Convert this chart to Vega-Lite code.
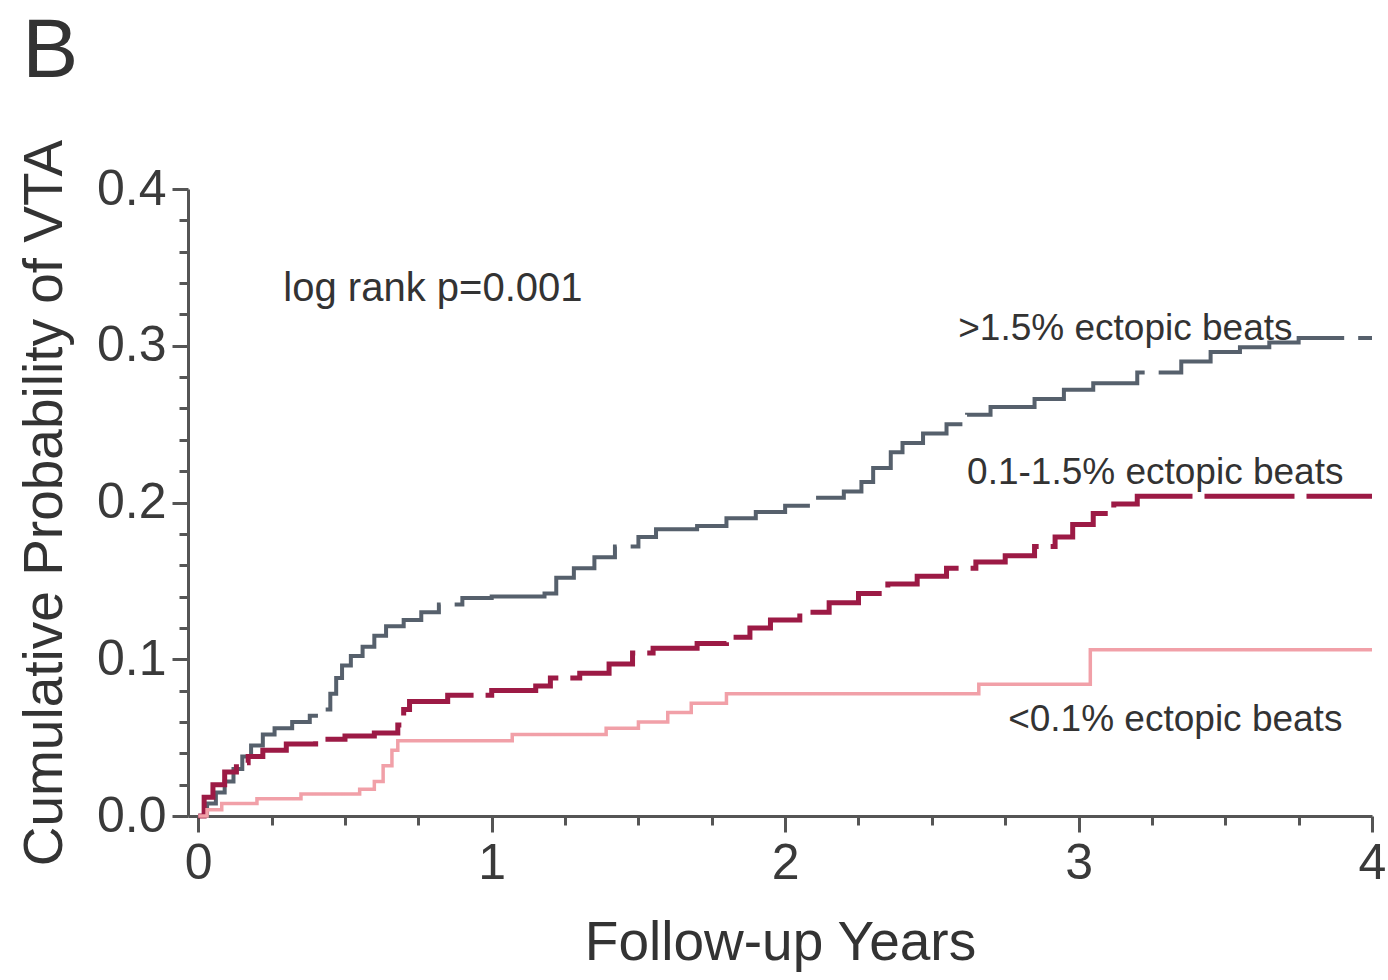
{
  "$schema": "https://vega.github.io/schema/vega-lite/v6.json",
  "width": 1184,
  "height": 627,
  "autosize": {"type": "none"},
  "padding": {"left": 188, "top": 189, "right": 16, "bottom": 164},
  "background": "white",
  "config": {
    "view": {"stroke": null},
    "font": "Liberation Sans",
    "axis": {
      "domainColor": "#555555",
      "domainWidth": 3,
      "tickColor": "#555555",
      "tickWidth": 3,
      "grid": false,
      "labelColor": "#3a3a3a",
      "titleColor": "#333333",
      "labelFont": "Liberation Sans",
      "titleFont": "Liberation Sans",
      "labelFontSize": 50,
      "titleFontSize": 55,
      "titleFontWeight": "normal"
    }
  },
  "datasets": {
    "curves": [
      {"group": ">1.5%", "t": 0, "p": 0},
      {"group": ">1.5%", "t": 0.03, "p": 0.008},
      {"group": ">1.5%", "t": 0.06, "p": 0.015},
      {"group": ">1.5%", "t": 0.09, "p": 0.022},
      {"group": ">1.5%", "t": 0.12, "p": 0.03},
      {"group": ">1.5%", "t": 0.15, "p": 0.038},
      {"group": ">1.5%", "t": 0.18, "p": 0.045},
      {"group": ">1.5%", "t": 0.22, "p": 0.052},
      {"group": ">1.5%", "t": 0.26, "p": 0.056},
      {"group": ">1.5%", "t": 0.32, "p": 0.06},
      {"group": ">1.5%", "t": 0.38, "p": 0.064},
      {"group": ">1.5%", "t": 0.42, "p": 0.068},
      {"group": ">1.5%", "t": 0.45, "p": 0.078},
      {"group": ">1.5%", "t": 0.47, "p": 0.088},
      {"group": ">1.5%", "t": 0.49, "p": 0.096},
      {"group": ">1.5%", "t": 0.52, "p": 0.102},
      {"group": ">1.5%", "t": 0.56, "p": 0.108},
      {"group": ">1.5%", "t": 0.6, "p": 0.115},
      {"group": ">1.5%", "t": 0.64, "p": 0.121},
      {"group": ">1.5%", "t": 0.7, "p": 0.125},
      {"group": ">1.5%", "t": 0.76, "p": 0.13},
      {"group": ">1.5%", "t": 0.82, "p": 0.135},
      {"group": ">1.5%", "t": 0.9, "p": 0.139},
      {"group": ">1.5%", "t": 1.0, "p": 0.14},
      {"group": ">1.5%", "t": 1.18, "p": 0.142},
      {"group": ">1.5%", "t": 1.22, "p": 0.152},
      {"group": ">1.5%", "t": 1.28, "p": 0.158},
      {"group": ">1.5%", "t": 1.35, "p": 0.165},
      {"group": ">1.5%", "t": 1.42, "p": 0.172},
      {"group": ">1.5%", "t": 1.5, "p": 0.178},
      {"group": ">1.5%", "t": 1.56, "p": 0.183},
      {"group": ">1.5%", "t": 1.7, "p": 0.185},
      {"group": ">1.5%", "t": 1.8, "p": 0.19},
      {"group": ">1.5%", "t": 1.9, "p": 0.194},
      {"group": ">1.5%", "t": 2.0, "p": 0.198},
      {"group": ">1.5%", "t": 2.1, "p": 0.203},
      {"group": ">1.5%", "t": 2.2, "p": 0.207},
      {"group": ">1.5%", "t": 2.26, "p": 0.213},
      {"group": ">1.5%", "t": 2.3, "p": 0.222},
      {"group": ">1.5%", "t": 2.36, "p": 0.232},
      {"group": ">1.5%", "t": 2.4, "p": 0.238},
      {"group": ">1.5%", "t": 2.47, "p": 0.244},
      {"group": ">1.5%", "t": 2.55, "p": 0.25},
      {"group": ">1.5%", "t": 2.62, "p": 0.256},
      {"group": ">1.5%", "t": 2.7, "p": 0.261},
      {"group": ">1.5%", "t": 2.85, "p": 0.266},
      {"group": ">1.5%", "t": 2.95, "p": 0.272},
      {"group": ">1.5%", "t": 3.05, "p": 0.276},
      {"group": ">1.5%", "t": 3.2, "p": 0.283},
      {"group": ">1.5%", "t": 3.35, "p": 0.29},
      {"group": ">1.5%", "t": 3.45, "p": 0.296},
      {"group": ">1.5%", "t": 3.55, "p": 0.299},
      {"group": ">1.5%", "t": 3.65, "p": 0.302},
      {"group": ">1.5%", "t": 3.75, "p": 0.305},
      {"group": ">1.5%", "t": 4.0, "p": 0.305},

      {"group": "0.1-1.5%", "t": 0, "p": 0},
      {"group": "0.1-1.5%", "t": 0.02, "p": 0.012},
      {"group": "0.1-1.5%", "t": 0.05, "p": 0.02},
      {"group": "0.1-1.5%", "t": 0.09, "p": 0.028},
      {"group": "0.1-1.5%", "t": 0.13, "p": 0.034},
      {"group": "0.1-1.5%", "t": 0.17, "p": 0.038},
      {"group": "0.1-1.5%", "t": 0.22, "p": 0.042},
      {"group": "0.1-1.5%", "t": 0.3, "p": 0.046},
      {"group": "0.1-1.5%", "t": 0.4, "p": 0.049},
      {"group": "0.1-1.5%", "t": 0.5, "p": 0.051},
      {"group": "0.1-1.5%", "t": 0.6, "p": 0.053},
      {"group": "0.1-1.5%", "t": 0.68, "p": 0.058},
      {"group": "0.1-1.5%", "t": 0.7, "p": 0.068},
      {"group": "0.1-1.5%", "t": 0.72, "p": 0.073},
      {"group": "0.1-1.5%", "t": 0.85, "p": 0.077},
      {"group": "0.1-1.5%", "t": 1.0, "p": 0.08},
      {"group": "0.1-1.5%", "t": 1.15, "p": 0.083},
      {"group": "0.1-1.5%", "t": 1.2, "p": 0.088},
      {"group": "0.1-1.5%", "t": 1.3, "p": 0.091},
      {"group": "0.1-1.5%", "t": 1.4, "p": 0.097},
      {"group": "0.1-1.5%", "t": 1.48, "p": 0.104},
      {"group": "0.1-1.5%", "t": 1.55, "p": 0.107},
      {"group": "0.1-1.5%", "t": 1.7, "p": 0.11},
      {"group": "0.1-1.5%", "t": 1.8, "p": 0.114},
      {"group": "0.1-1.5%", "t": 1.88, "p": 0.12},
      {"group": "0.1-1.5%", "t": 1.95, "p": 0.125},
      {"group": "0.1-1.5%", "t": 2.05, "p": 0.13},
      {"group": "0.1-1.5%", "t": 2.15, "p": 0.136},
      {"group": "0.1-1.5%", "t": 2.25, "p": 0.142},
      {"group": "0.1-1.5%", "t": 2.35, "p": 0.148},
      {"group": "0.1-1.5%", "t": 2.45, "p": 0.153},
      {"group": "0.1-1.5%", "t": 2.55, "p": 0.158},
      {"group": "0.1-1.5%", "t": 2.65, "p": 0.162},
      {"group": "0.1-1.5%", "t": 2.75, "p": 0.166},
      {"group": "0.1-1.5%", "t": 2.85, "p": 0.172},
      {"group": "0.1-1.5%", "t": 2.92, "p": 0.178},
      {"group": "0.1-1.5%", "t": 2.98, "p": 0.186},
      {"group": "0.1-1.5%", "t": 3.05, "p": 0.193},
      {"group": "0.1-1.5%", "t": 3.12, "p": 0.199},
      {"group": "0.1-1.5%", "t": 3.2, "p": 0.204},
      {"group": "0.1-1.5%", "t": 4.0, "p": 0.204},

      {"group": "<0.1%", "t": 0, "p": 0},
      {"group": "<0.1%", "t": 0.03, "p": 0.004},
      {"group": "<0.1%", "t": 0.08, "p": 0.008},
      {"group": "<0.1%", "t": 0.2, "p": 0.011},
      {"group": "<0.1%", "t": 0.35, "p": 0.014},
      {"group": "<0.1%", "t": 0.55, "p": 0.017},
      {"group": "<0.1%", "t": 0.6, "p": 0.022},
      {"group": "<0.1%", "t": 0.63, "p": 0.032},
      {"group": "<0.1%", "t": 0.66, "p": 0.042},
      {"group": "<0.1%", "t": 0.68, "p": 0.048},
      {"group": "<0.1%", "t": 1.07, "p": 0.052},
      {"group": "<0.1%", "t": 1.39, "p": 0.056},
      {"group": "<0.1%", "t": 1.5, "p": 0.06},
      {"group": "<0.1%", "t": 1.6, "p": 0.066},
      {"group": "<0.1%", "t": 1.68, "p": 0.072},
      {"group": "<0.1%", "t": 1.8, "p": 0.078},
      {"group": "<0.1%", "t": 2.66, "p": 0.084},
      {"group": "<0.1%", "t": 3.04, "p": 0.106},
      {"group": "<0.1%", "t": 4.0, "p": 0.106}
    ],
    "notes": [
      {"t": -0.6, "p": 0.4875, "label": "B", "size": "big"},
      {"t": 0.29, "p": 0.336, "label": "log rank p=0.001", "size": "medium"},
      {"t": 2.59, "p": 0.311, "label": ">1.5% ectopic beats", "size": "small"},
      {"t": 2.62, "p": 0.219, "label": "0.1-1.5% ectopic beats", "size": "small"},
      {"t": 2.76, "p": 0.061, "label": "<0.1% ectopic beats", "size": "small"}
    ]
  },
  "layer": [
    {
      "data": {"name": "curves"},
      "mark": {"type": "line", "interpolate": "step-after", "clip": false},
      "encoding": {
        "x": {
          "field": "t", "type": "quantitative",
          "scale": {"domain": [-0.035, 4.0], "nice": false, "zero": false},
          "axis": {
            "title": "Follow-up Years",
            "values": [0, 0.25, 0.5, 0.75, 1, 1.25, 1.5, 1.75, 2, 2.25, 2.5, 2.75, 3, 3.25, 3.5, 3.75, 4],
            "tickCount": 100,
            "labelExpr": "datum.value % 1 === 0 ? format(datum.value, 'd') : ''",
            "tickSize": {"condition": {"test": "datum.value % 1 === 0", "value": 16}, "value": 9},
            "labelPadding": 6,
            "titlePadding": 28,
            "labelFlush": false,
            "labelOverlap": false
          }
        },
        "y": {
          "field": "p", "type": "quantitative",
          "scale": {"domain": [0, 0.4], "nice": false},
          "axis": {
            "title": "Cumulative Probability of VTA",
            "values": [0, 0.02, 0.04, 0.06, 0.08, 0.1, 0.12, 0.14, 0.16, 0.18, 0.2, 0.22, 0.24, 0.26, 0.28, 0.3, 0.32, 0.34, 0.36, 0.38, 0.4],
            "tickCount": 100,
            "labelExpr": "abs(datum.value*10 - round(datum.value*10)) < 0.000001 ? format(datum.value, '.1f') : ''",
            "tickSize": {"condition": {"test": "abs(datum.value*10 - round(datum.value*10)) < 0.000001", "value": 16}, "value": 9},
            "labelPadding": 6,
            "titlePadding": 23,
            "labelFlush": false,
            "labelOverlap": false
          }
        },
        "color": {
          "field": "group", "type": "nominal",
          "scale": {"domain": [">1.5%", "0.1-1.5%", "<0.1%"], "range": ["#56606c", "#9c1a45", "#f1a0a8"]},
          "legend": null
        },
        "strokeDash": {
          "field": "group", "type": "nominal",
          "scale": {"domain": [">1.5%", "0.1-1.5%", "<0.1%"], "range": [[220, 14], [90, 12], [1, 0]]},
          "legend": null
        },
        "strokeWidth": {
          "field": "group", "type": "nominal",
          "scale": {"type": "ordinal", "domain": [">1.5%", "0.1-1.5%", "<0.1%"], "range": [4, 5, 3.5]},
          "legend": null
        }
      }
    },
    {
      "data": {"name": "notes"},
      "mark": {"type": "text", "align": "left", "baseline": "middle", "color": "#333333", "font": "Liberation Sans"},
      "encoding": {
        "x": {"field": "t", "type": "quantitative"},
        "y": {"field": "p", "type": "quantitative"},
        "text": {"field": "label"},
        "size": {
          "field": "size", "type": "nominal",
          "scale": {"type": "ordinal", "domain": ["big", "medium", "small"], "range": [84, 40, 37]},
          "legend": null
        }
      }
    }
  ]
}
